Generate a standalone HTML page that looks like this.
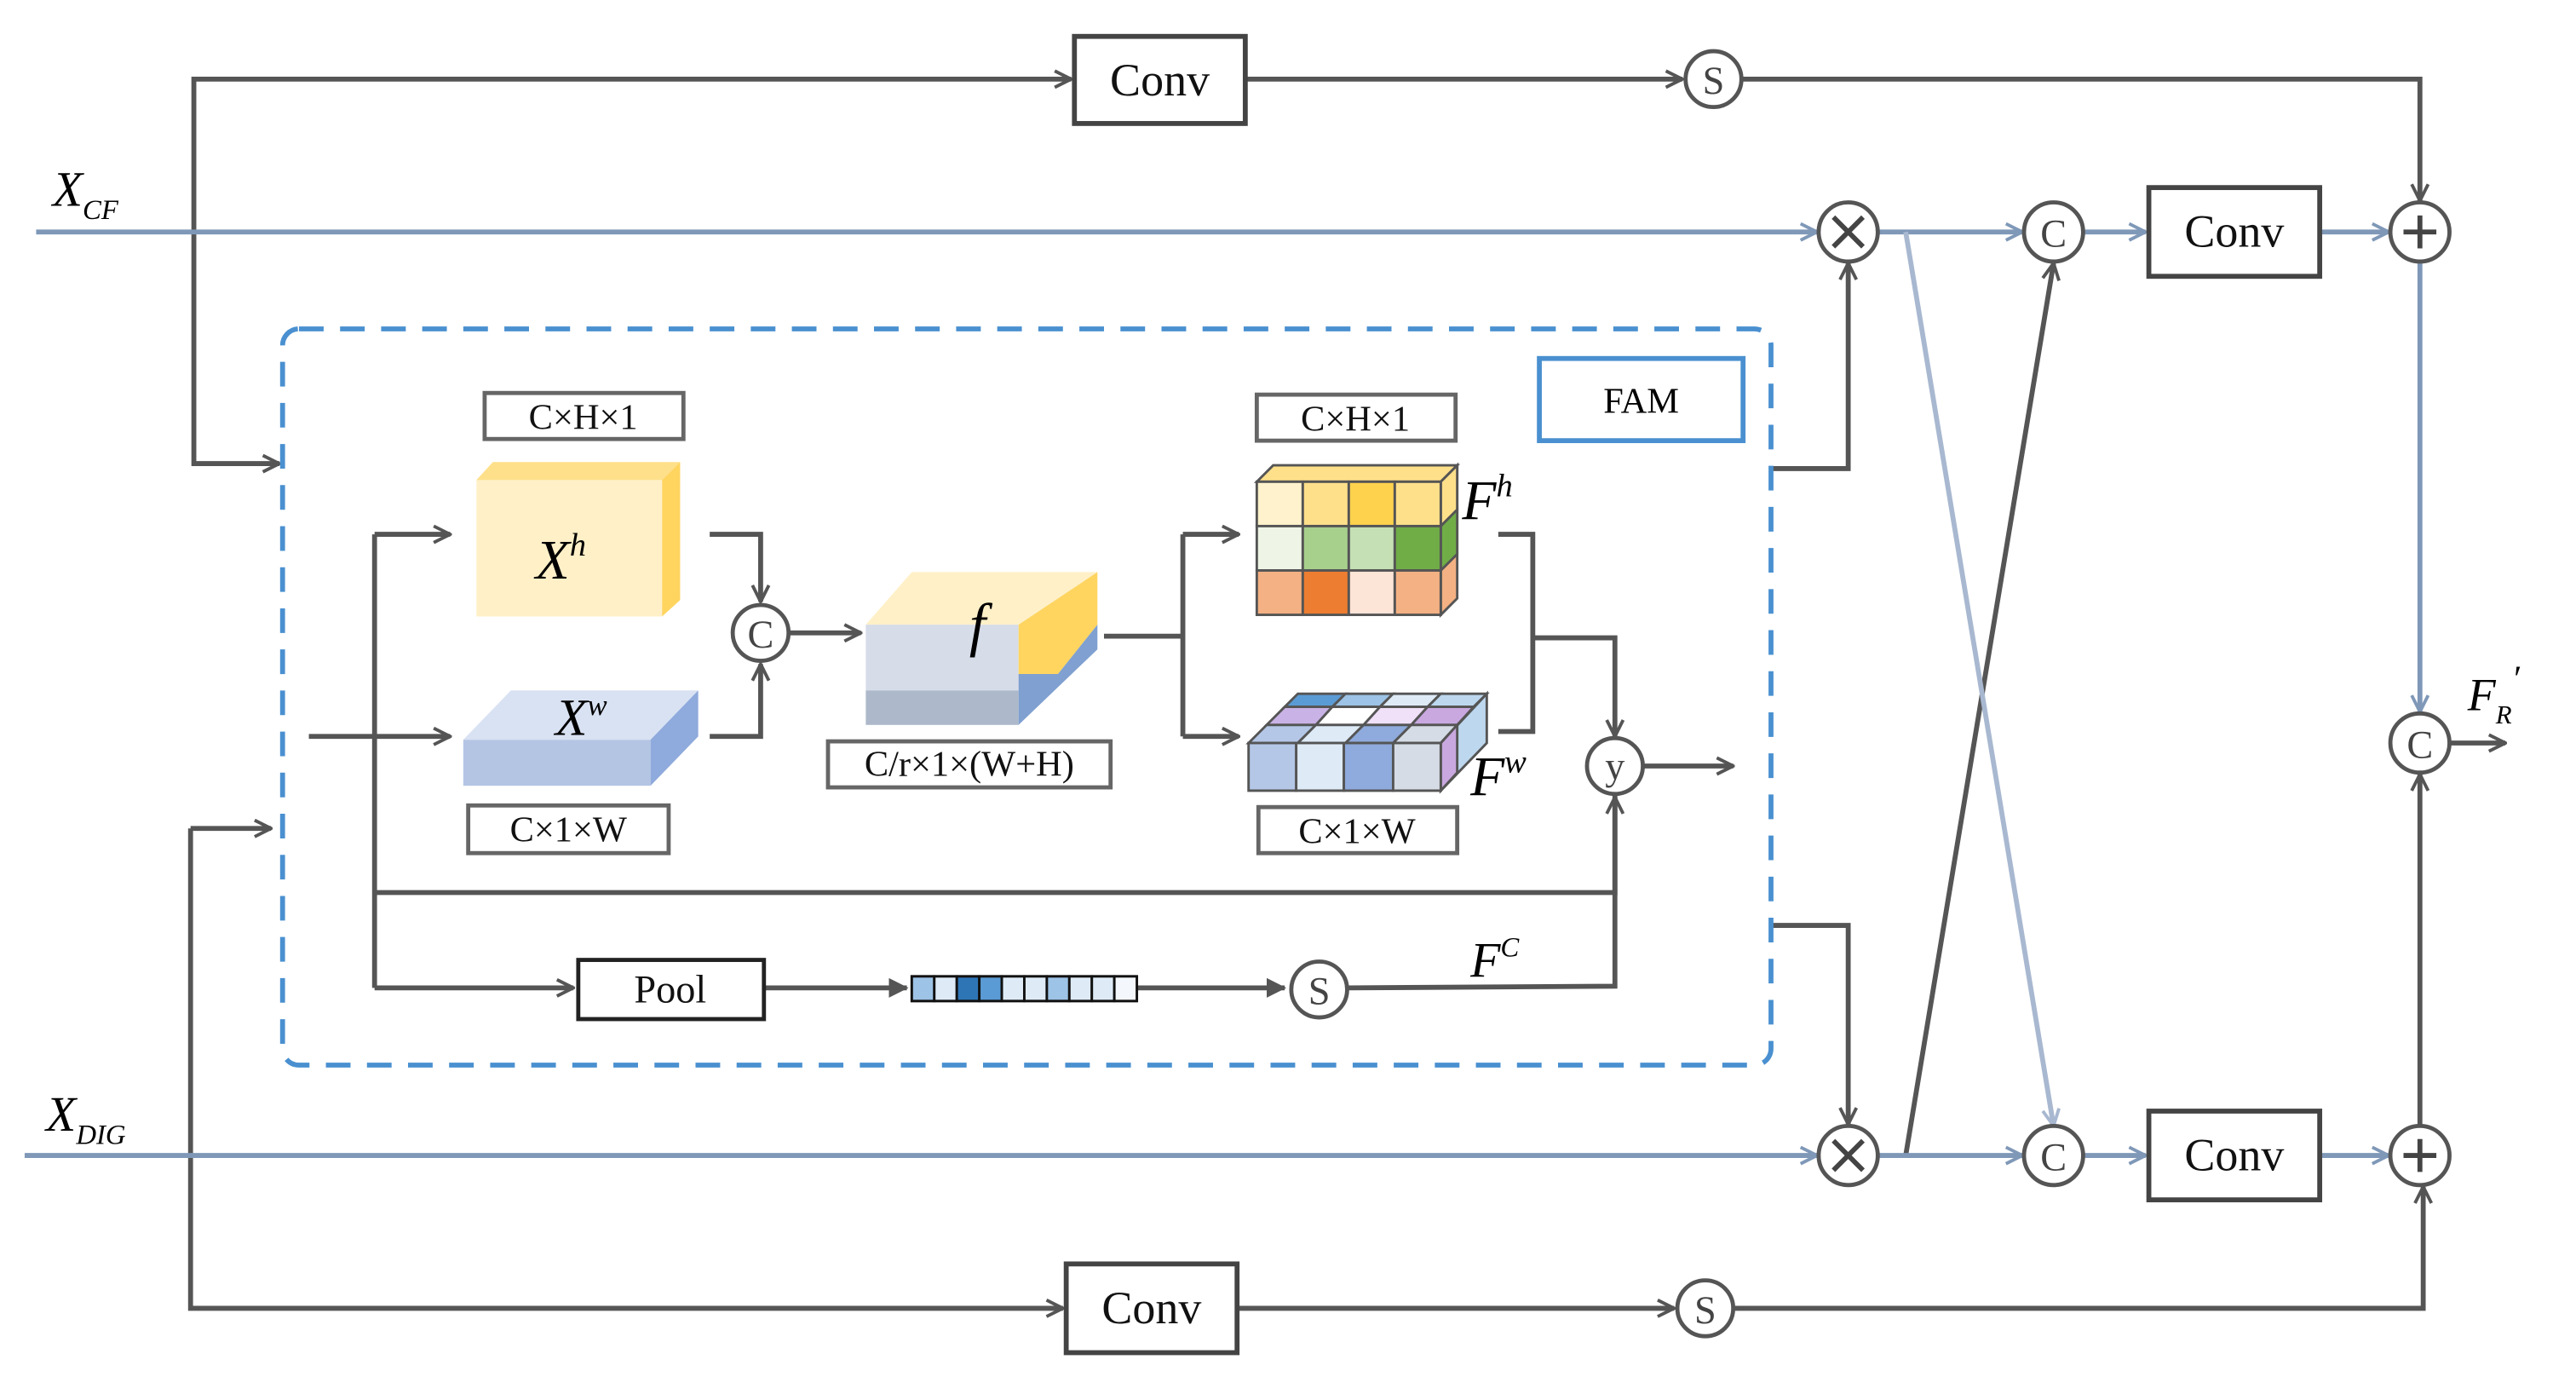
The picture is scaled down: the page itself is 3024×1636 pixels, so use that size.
<!DOCTYPE html>
<html><head><meta charset="utf-8"><style>
html,body{margin:0;padding:0;background:#fff;}
svg{display:block;}
text{font-family:"Liberation Serif",serif;}
</style></head><body>
<svg width="3024" height="1636" viewBox="0 0 1568 848" xmlns="http://www.w3.org/2000/svg">
<defs>
<marker id="ag" viewBox="0 0 12 12" refX="11" refY="6" markerWidth="12" markerHeight="12" markerUnits="userSpaceOnUse" orient="auto"><path d="M1,1 L11,6 L1,11" fill="none" stroke="#555" stroke-width="2"/></marker>
<marker id="ab" viewBox="0 0 12 12" refX="11" refY="6" markerWidth="12" markerHeight="12" markerUnits="userSpaceOnUse" orient="auto"><path d="M1,1 L11,6 L1,11" fill="none" stroke="#7f98b8" stroke-width="2"/></marker>
<marker id="al" viewBox="0 0 12 12" refX="11" refY="6" markerWidth="12" markerHeight="12" markerUnits="userSpaceOnUse" orient="auto"><path d="M1,1 L11,6 L1,11" fill="none" stroke="#a8b8d0" stroke-width="2"/></marker>
<marker id="af" viewBox="0 0 12 12" refX="11" refY="6" markerWidth="12" markerHeight="12" markerUnits="userSpaceOnUse" orient="auto"><path d="M0,0 L12,6 L0,12 Z" fill="#555"/></marker>
</defs>
<g fill="none" stroke="#555" stroke-width="3">
<path d="M170,282 H118 V48 H652" marker-end="url(#ag)"/>
<path d="M118,282 H170" marker-end="url(#ag)"/>
<path d="M758,48 H1024" marker-end="url(#ag)"/>
<path d="M1060,48 H1473 V122" marker-end="url(#ag)"/>
<path d="M116,504 H165" marker-end="url(#ag)"/>
<path d="M116,504 V796 H647" marker-end="url(#ag)"/>
<path d="M753,796 H1019" marker-end="url(#ag)"/>
<path d="M1056,796 H1475 V722" marker-end="url(#ag)"/>
<path d="M1078,285 H1125 V160" marker-end="url(#ag)"/>
<path d="M1078,563 H1125 V684" marker-end="url(#ag)"/>
<path d="M1160,703 L1250,160" marker-end="url(#ag)"/>
<path d="M1473,685 V471" marker-end="url(#ag)"/>
<path d="M1491,452 H1525" marker-end="url(#ag)"/>
</g>
<g fill="none" stroke="#7f98b8" stroke-width="3">
<path d="M22,141 H1106" marker-end="url(#ab)"/>
<path d="M1143,141 H1231" marker-end="url(#ab)"/>
<path d="M1268,141 H1306" marker-end="url(#ab)"/>
<path d="M1412,141 H1454" marker-end="url(#ab)"/>
<path d="M1473,159 V433" marker-end="url(#ab)"/>
<path d="M15,703 H1106" marker-end="url(#ab)"/>
<path d="M1143,703 H1231" marker-end="url(#ab)"/>
<path d="M1268,703 H1306" marker-end="url(#ab)"/>
<path d="M1413,703 H1454" marker-end="url(#ab)"/>
</g>
<path d="M1160,141 L1250,685" fill="none" stroke="#a8b8d0" stroke-width="3" marker-end="url(#al)"/>
<g fill="#fff" stroke="#444" stroke-width="3">
<rect x="654" y="22" width="104" height="53"/>
<rect x="649" y="769" width="104" height="54"/>
<rect x="1308" y="114" width="104" height="54"/>
<rect x="1308" y="676" width="104" height="54"/>
</g>
<g font-size="28" text-anchor="middle" fill="#111">
<text x="706" y="58">Conv</text>
<text x="701" y="805">Conv</text>
<text x="1360" y="150">Conv</text>
<text x="1360" y="712">Conv</text>
</g>
<g fill="#fff" stroke="#555" stroke-width="2.5">
<circle cx="1043" cy="48" r="17"/><circle cx="1038" cy="796" r="17"/>
<circle cx="1125" cy="141" r="18"/><circle cx="1125" cy="703" r="18"/>
<circle cx="1250" cy="141" r="18"/><circle cx="1250" cy="703" r="18"/>
<circle cx="1473" cy="141" r="18"/><circle cx="1473" cy="703" r="18"/>
<circle cx="1473" cy="452" r="18"/>
<circle cx="463" cy="385" r="17"/><circle cx="983" cy="466" r="17"/><circle cx="803" cy="602" r="17"/>
</g>
<g stroke="#444" stroke-width="3">
<path d="M1116,132 L1134,150 M1134,132 L1116,150"/><path d="M1116,694 L1134,712 M1134,694 L1116,712"/>
<path d="M1463,141 H1483 M1473,131 V151"/><path d="M1463,703 H1483 M1473,693 V713"/>
</g>
<g font-size="24" text-anchor="middle" fill="#444">
<text x="1043" y="57">S</text><text x="1038" y="805">S</text><text x="803" y="611">S</text>
<text x="1250" y="150">C</text><text x="1250" y="712">C</text><text x="1473" y="461">C</text><text x="463" y="394">C</text>
<text x="983" y="474">y</text>
</g>
<text x="32" y="125" font-size="30" font-style="italic">X<tspan font-size="17" dy="8">CF</tspan></text>
<text x="28" y="688" font-size="30" font-style="italic">X<tspan font-size="17" dy="8">DIG</tspan></text>
<text x="1502" y="432" font-size="28" font-style="italic">F<tspan font-size="16" dy="8">R</tspan><tspan font-size="22" dy="-20">′</tspan></text>
<rect x="172" y="200" width="906" height="448" rx="10" fill="none" stroke="#4a90d0" stroke-width="3" stroke-dasharray="15,10"/>
<rect x="937" y="218" width="124" height="50" fill="#fff" stroke="#4a90d0" stroke-width="3"/>
<text x="999" y="251" font-size="22" text-anchor="middle">FAM</text>
<g fill="none" stroke="#555" stroke-width="3">
<path d="M188,448 H274" marker-end="url(#ag)"/>
<path d="M228,325 V601"/>
<path d="M228,325 H274" marker-end="url(#ag)"/>
<path d="M228,543 H983 V485" marker-end="url(#ag)"/>
<path d="M228,601 H349" marker-end="url(#ag)"/>
<path d="M465,601 H552" marker-end="url(#af)"/>
<path d="M692,601 H782" marker-end="url(#af)"/>
<path d="M821,601 L983,600 V484"/>
<path d="M432,325 H463 V366" marker-end="url(#ag)"/>
<path d="M432,448 H463 V404" marker-end="url(#ag)"/>
<path d="M481,385 H524" marker-end="url(#ag)"/>
<path d="M672,387 H720"/>
<path d="M720,325 V448"/>
<path d="M720,325 H754" marker-end="url(#ag)"/>
<path d="M720,448 H754" marker-end="url(#ag)"/>
<path d="M912,325 H933 V445 H912"/>
<path d="M933,388 H983 V448" marker-end="url(#ag)"/>
<path d="M1001,466 H1055" marker-end="url(#ag)"/>
</g>
<g fill="#fff" stroke="#666" stroke-width="2.5">
<rect x="295" y="239" width="121" height="28"/>
<rect x="285" y="490" width="122" height="29"/>
<rect x="504" y="451" width="172" height="28"/>
<rect x="765" y="240" width="121" height="28"/>
<rect x="766" y="491" width="121" height="28"/>
<rect x="352" y="584" width="113" height="36" stroke="#222"/>
</g>
<g font-size="22" text-anchor="middle" fill="#111">
<text x="355" y="261">C×H×1</text>
<text x="346" y="512">C×1×W</text>
<text x="590" y="472">C/r×1×(W+H)</text>
<text x="825" y="262">C×H×1</text>
<text x="826" y="513">C×1×W</text>
<text x="408" y="610" font-size="24">Pool</text>
</g>
<rect x="290" y="292" width="113" height="83" fill="#fff0c8"/>
<polygon points="290,292 300,281 414,281 403,292" fill="#ffe08a"/>
<polygon points="403,292 414,281 414,365 403,375" fill="#ffd560"/>
<text x="326" y="352" font-size="34" font-style="italic">X<tspan font-size="20" dy="-14">h</tspan></text>
<rect x="282" y="450" width="114" height="28" fill="#b4c5e4"/>
<polygon points="282,450 311,420 425,420 396,450" fill="#d9e2f3"/>
<polygon points="396,450 425,420 425,448 396,478" fill="#8faadc"/>
<text x="338" y="447" font-size="32" font-style="italic">X<tspan font-size="18" dy="-12">w</tspan></text>
<polygon points="527,380 555,348 668,348 620,380" fill="#fff0c8"/>
<rect x="527" y="380" width="93" height="40" fill="#d6dce8"/>
<rect x="527" y="420" width="93" height="21" fill="#adb9ca"/>
<polygon points="620,380 668,348 668,380 644,410 620,410" fill="#ffd560"/>
<polygon points="620,410 644,410 668,380 668,395 620,441" fill="#7fa0d0"/>
<text x="590" y="392" font-size="36" font-style="italic">f</text>
<g stroke="#555" stroke-width="1.5">
<polygon points="765,293 775,283 887,283 877,293" fill="#ffe08a"/>
<polygon points="877,293 887,283 887,364 877,374" fill="#f4b183"/>
<polygon points="877,293 887,283 887,310 877,320" fill="#ffe08a"/>
<polygon points="877,320 887,310 887,337 877,347" fill="#70ad47"/>
<rect x="765" y="293" width="28" height="27" fill="#fff2cc"/><rect x="793" y="293" width="28" height="27" fill="#ffe08a"/><rect x="821" y="293" width="28" height="27" fill="#ffd24d"/><rect x="849" y="293" width="28" height="27" fill="#ffe08a"/>
<rect x="765" y="320" width="28" height="27" fill="#eef5e6"/><rect x="793" y="320" width="28" height="27" fill="#a8d08d"/><rect x="821" y="320" width="28" height="27" fill="#c5e0b4"/><rect x="849" y="320" width="28" height="27" fill="#70ad47"/>
<rect x="765" y="347" width="28" height="27" fill="#f4b183"/><rect x="793" y="347" width="28" height="27" fill="#ed7d31"/><rect x="821" y="347" width="28" height="27" fill="#fce4d6"/><rect x="849" y="347" width="28" height="27" fill="#f4b183"/>
</g>
<text x="890" y="316" font-size="34" font-style="italic">F<tspan font-size="20" dy="-14">h</tspan></text>
<g stroke="#555" stroke-width="1.5">
<polygon points="790,422 819,422 811,430 782,430" fill="#5b9bd5"/>
<polygon points="819,422 848,422 840,430 811,430" fill="#9dc3e6"/>
<polygon points="848,422 877,422 869,430 840,430" fill="#deebf7"/>
<polygon points="877,422 905,422 897,430 869,430" fill="#bdd7ee"/>
<polygon points="782,430 811,430 801,441 771,441" fill="#c9b3e6"/>
<polygon points="811,430 840,430 830,441 801,441" fill="#ffffff"/>
<polygon points="840,430 869,430 859,441 830,441" fill="#f0e0f8"/>
<polygon points="869,430 897,430 887,441 859,441" fill="#c9a8e0"/>
<polygon points="771,441 801,441 790,452 760,452" fill="#b4c7e7"/>
<polygon points="801,441 830,441 819,452 790,452" fill="#deebf7"/>
<polygon points="830,441 859,441 848,452 819,452" fill="#8faadc"/>
<polygon points="859,441 887,441 877,452 848,452" fill="#d6dce5"/>
<polygon points="877,452 905,422 905,452 877,481" fill="#bdd7ee"/>
<polygon points="877,452 887,441 887,470 877,481" fill="#c9a8e0"/>
<rect x="760" y="452" width="29" height="29" fill="#b4c7e7"/><rect x="789" y="452" width="29" height="29" fill="#deebf7"/><rect x="818" y="452" width="30" height="29" fill="#8faadc"/><rect x="848" y="452" width="29" height="29" fill="#d6dce5"/>
</g>
<text x="895" y="484" font-size="34" font-style="italic">F<tspan font-size="20" dy="-14">w</tspan></text>
<text x="895" y="594" font-size="30" font-style="italic">F<tspan font-size="17" dy="-12">C</tspan></text>
<g stroke="#111" stroke-width="1.5">
<rect x="555" y="594" width="137" height="15" fill="#fff"/>
<rect x="555" y="594" width="13.7" height="15" fill="#9dc3e6"/>
<rect x="568.7" y="594" width="13.7" height="15" fill="#deebf7"/>
<rect x="582.4" y="594" width="13.7" height="15" fill="#2e75b6"/>
<rect x="596.1" y="594" width="13.7" height="15" fill="#5b9bd5"/>
<rect x="609.8" y="594" width="13.7" height="15" fill="#deebf7"/>
<rect x="623.5" y="594" width="13.7" height="15" fill="#deebf7"/>
<rect x="637.2" y="594" width="13.7" height="15" fill="#9dc3e6"/>
<rect x="650.9" y="594" width="13.7" height="15" fill="#deebf7"/>
<rect x="664.6" y="594" width="13.7" height="15" fill="#deebf7"/>
<rect x="678.3" y="594" width="13.7" height="15" fill="#f4f8fc"/>
</g>
</svg>
</body></html>
